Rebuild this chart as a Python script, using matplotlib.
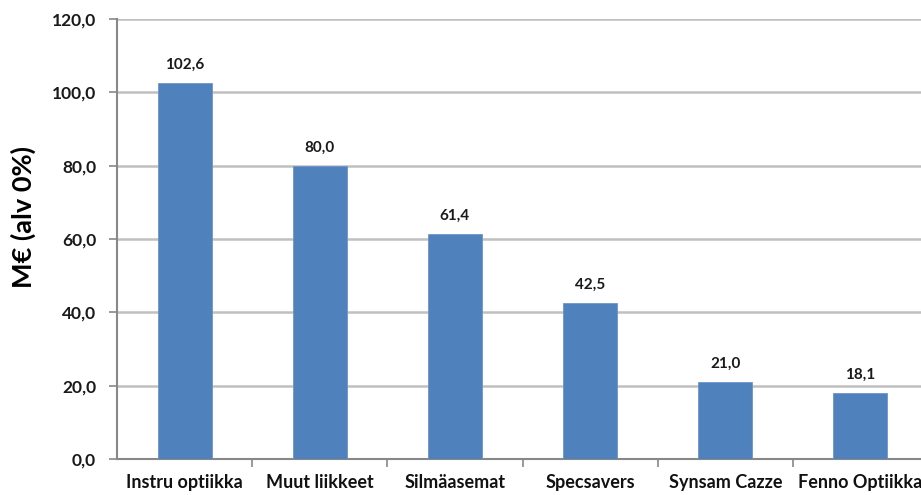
import numpy as np
import matplotlib.pyplot as plt

# Data
categories = ['Instru optiikka', 'Muut liikkeet', 'Silmäasemat', 'Specsavers', 'Synsam Cazze', 'Fenno Optiikka']
values = [102.6, 80.0, 61.4, 42.5, 21.0, 18.1]

plt.rcParams['font.family'] = ['Lato', 'DejaVu Sans']

fig = plt.figure(figsize=(9.21, 4.95), dpi=100)
# axes runs slightly past the right edge, like the cropped original
ax = fig.add_axes([117 / 921, 36 / 495, 811 / 921, 440 / 495])

x = np.arange(len(categories))
ax.bar(x, values, width=0.4, color='#4f81bd', edgecolor='#6f95c8', linewidth=0.6, zorder=3)

for xi, v in zip(x, values):
    ax.text(xi, v + 3, f'{v:.1f}'.replace('.', ','), ha='center', va='bottom',
            fontsize=11, fontweight='bold', color='#1a1a1a')

ax.set_xlim(-0.5, len(categories) - 0.5)
ax.set_ylim(0, 120)
ax.set_yticks(np.arange(0, 121, 20))
ax.set_yticklabels([f'{t:.1f}'.replace('.', ',') for t in np.arange(0, 121, 20)],
                   fontsize=12.5, fontweight='bold', color='#1a1a1a')
ax.set_xticks(x)
ax.set_xticklabels(categories, fontsize=13, fontweight='bold', color='#111111')
ax.set_xticks(np.arange(0.5, len(categories) - 0.5, 1), minor=True)
ax.tick_params(axis='x', which='major', length=0, pad=11)
ax.tick_params(axis='x', which='minor', length=6, color='#888888', width=1.2)
ax.tick_params(axis='y', length=6, color='#888888', width=1.2, pad=9)

ax.grid(axis='y', color='#c0c0c0', linewidth=1.8, zorder=0)
for s in ['top', 'right']:
    ax.spines[s].set_visible(False)
for s in ['left', 'bottom']:
    ax.spines[s].set_color('#888888')
    ax.spines[s].set_linewidth(1.5)

ax.set_ylabel('M€ (alv 0%)', fontsize=19.5, fontweight='bold')
ax.yaxis.set_label_coords(-0.1, 0.55)

fig.savefig('out.png', dpi=100)
